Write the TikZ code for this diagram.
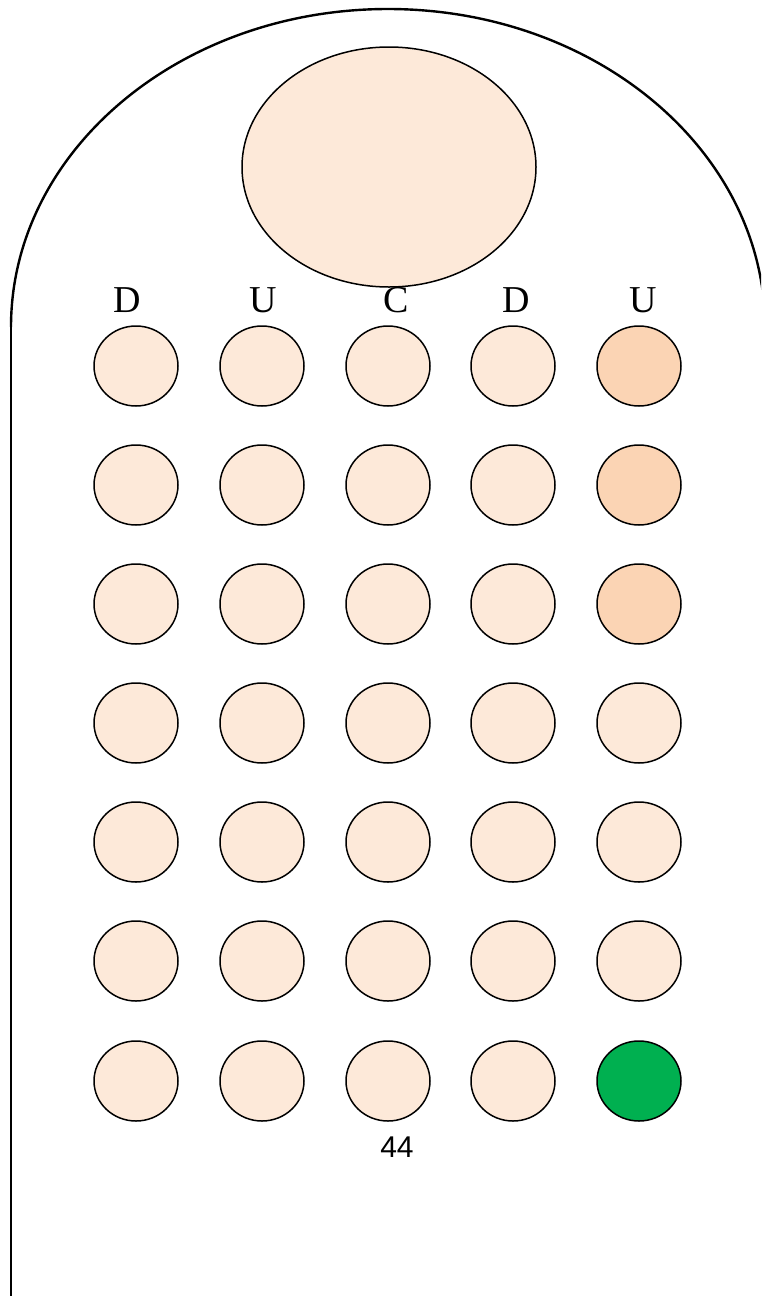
\documentclass[tikz,border=0pt]{standalone}
\usepackage{fontspec}
\setmainfont{Liberation Serif}
\newfontfamily\numfont{Liberation Sans}
\usetikzlibrary{shapes.geometric}
\definecolor{peachlight}{HTML}{FDE9D9}
\definecolor{peachdark}{HTML}{FBD4B4}
\definecolor{wordgreen}{HTML}{00B050}
\tikzset{
  dot/.style={ellipse, draw=black, line width=1.5pt, fill=peachlight, inner sep=0pt, minimum width=84pt, minimum height=80pt},
  dotdark/.style={dot, fill=peachdark},
  dotgreen/.style={dot, fill=wordgreen},
  colhead/.style={font=\fontsize{38}{40}\selectfont, inner sep=0pt, anchor=base},
  outline/.style={line width=2.4pt, line cap=butt},
}
\begin{document}
\begin{tikzpicture}[x=1pt,y=-1pt]
\useasboundingbox (0,0) rectangle (761,1296);
\clip (0,0) rectangle (761,1296);
% outer arc and side
\coordinate (arcL) at (11,327);
\coordinate (sideB) at (11,1296);
\draw[outline] (arcL) arc[start angle=180, end angle=0, x radius=377, y radius=-318];
\draw[line width=2pt] (arcL) -- (sideB);
% head ellipse
\node[ellipse, draw=black, line width=1.5pt, fill=peachlight, minimum width=294pt, minimum height=240pt, inner sep=0pt] (head) at (389,167) {};
% column labels
\node[colhead] (l1) at (127,312) {D};
\node[colhead] (l2) at (263,312) {U};
\node[colhead] (l3) at (396,312) {C};
\node[colhead] (l4) at (516,312) {D};
\node[colhead] (l5) at (643,312) {U};
% grid of buttons
\foreach \r/\y in {1/366,2/485,3/604,4/723,5/842,6/961,7/1081}{
  \foreach \c/\x in {1/136,2/262,3/388,4/513}{
    \node[dot] (b\r\c) at (\x,\y) {};
  }
}
\node[dotdark] (b15) at (639,366) {};
\node[dotdark] (b25) at (639,485) {};
\node[dotdark] (b35) at (639,604) {};
\node[dot] (b45) at (639,723) {};
\node[dot] (b55) at (639,842) {};
\node[dot] (b65) at (639,961) {};
\node[dotgreen] (b75) at (639,1081) {};
% number
\node[font=\numfont\fontsize{30}{32}\selectfont, inner sep=0pt] (num) at (397,1147) {44};
\end{tikzpicture}
\end{document}
